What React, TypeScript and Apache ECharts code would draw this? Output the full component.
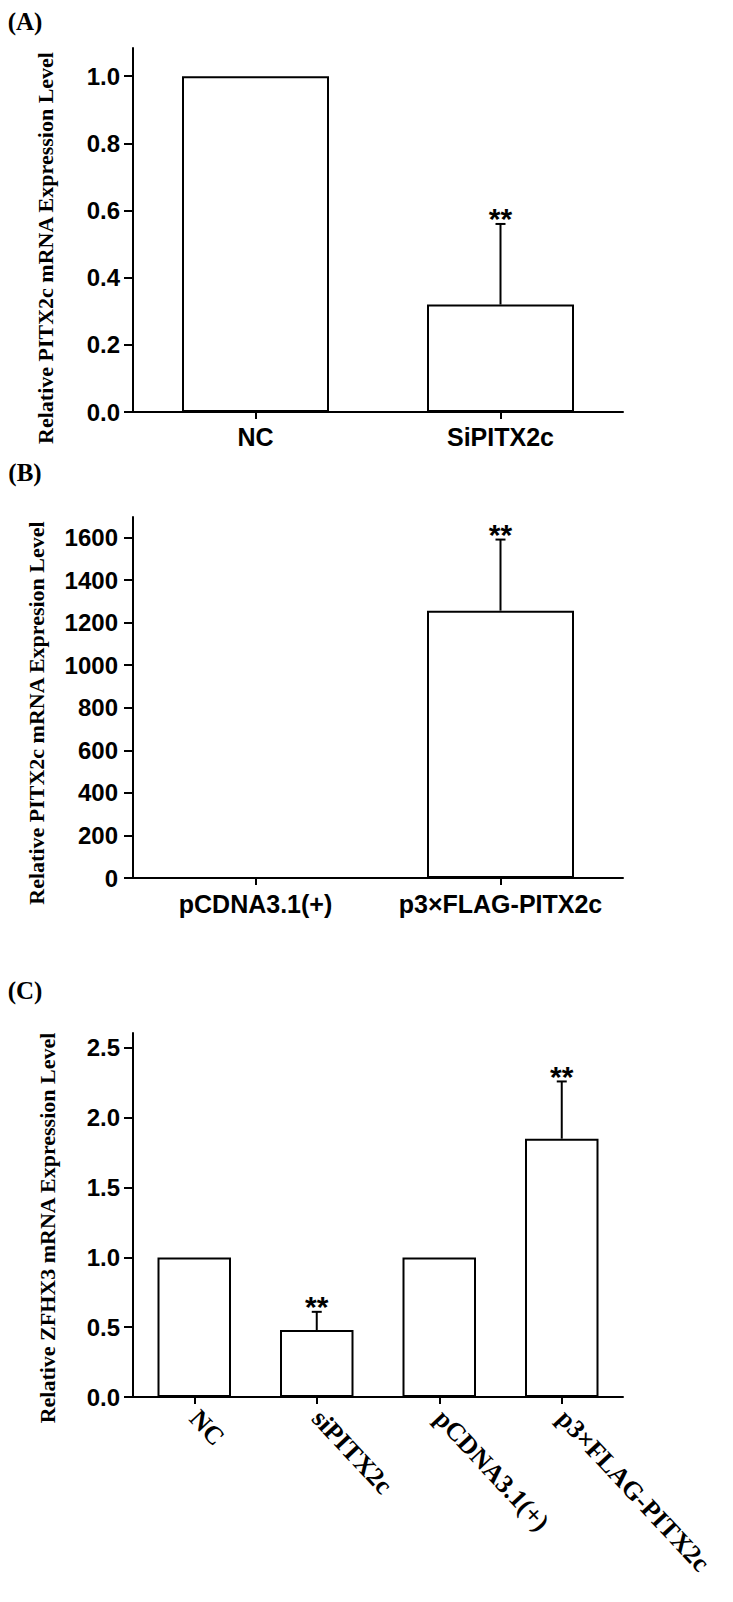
import React, { useEffect, useRef } from "react";
import * as echarts from "echarts";

// Panel A
const catsA = ["NC", "SiPITX2c"];
const valsA = [1.0, 0.32];
const errA = [0, 0.24];
const sigA = ["", "**"];
const ticksA = [0, 0.2, 0.4, 0.6, 0.8, 1.0];

// Panel B
const catsB = ["pCDNA3.1(+)", "p3×FLAG-PITX2c"];
const valsB = [1, 1256];
const errB = [0, 334];
const sigB = ["", "**"];
const ticksB = [0, 200, 400, 600, 800, 1000, 1200, 1400, 1600];

// Panel C
const catsC = ["NC", "siPITX2c", "pCDNA3.1(+)", "p3×FLAG-PITX2c"];
const valsC = [1.0, 0.48, 1.0, 1.85];
const errC = [0, 0.13, 0, 0.41];
const sigC = ["", "**", "", "**"];
const ticksC = [0, 0.5, 1.0, 1.5, 2.0, 2.5];

const SANS = "'Liberation Sans', Arial, sans-serif";
const SERIF = "'Liberation Serif', 'Times New Roman', serif";

function makeErr(gridIdx: number, vals: number[], errs: number[], sigs: string[]) {
  return {
    type: "custom",
    xAxisIndex: gridIdx,
    yAxisIndex: gridIdx,
    z: 5,
    encode: { x: 0, y: 1 },
    data: vals.map((v, i) => [i, v, errs[i]]),
    renderItem: (params: any, api: any) => {
      const i = api.value(0);
      const v = api.value(1);
      const e = api.value(2);
      if (!e) return { type: "group", children: [] };
      const base = api.coord([i, v]);
      const top = api.coord([i, v + e]);
      return {
        type: "group",
        children: [
          {
            type: "line",
            shape: { x1: base[0], y1: base[1], x2: top[0], y2: top[1] },
            style: { stroke: "#000", lineWidth: 2 },
          },
          {
            type: "line",
            shape: { x1: top[0] - 5, y1: top[1], x2: top[0] + 5, y2: top[1] },
            style: { stroke: "#000", lineWidth: 2 },
          },
          {
            type: "text",
            x: top[0],
            y: top[1] - 5,
            style: {
              text: sigs[i],
              textAlign: "center",
              textVerticalAlign: "middle",
              font: `bold 30px ${SANS}`,
              fill: "#000",
            },
          },
        ],
      };
    },
  };
}

function makeBar(gridIdx: number, vals: number[]) {
  return {
    type: "bar",
    xAxisIndex: gridIdx,
    yAxisIndex: gridIdx,
    barWidth: "60%",
    data: vals,
    itemStyle: { color: "#fff", borderColor: "#000", borderWidth: 2 },
    z: 2,
  };
}

const axisLine = { show: true, lineStyle: { color: "#000", width: 2 } };

function yAxis(gridIdx: number, max: number, interval: number, ticks: number[], digits: number, margin: number) {
  return {
    type: "value",
    gridIndex: gridIdx,
    min: 0,
    max,
    interval,
    axisLine,
    axisTick: { show: true, length: 9, lineStyle: { color: "#000", width: 2 }, customValues: ticks },
    axisLabel: {
      customValues: ticks,
      margin,
      color: "#000",
      fontFamily: SANS,
      fontWeight: "bold",
      fontSize: 24,
      formatter: (v: number) => v.toFixed(digits),
    },
    splitLine: { show: false },
  };
}

function xAxis(gridIdx: number, cats: string[], label: any) {
  return {
    type: "category",
    gridIndex: gridIdx,
    data: cats,
    axisLine,
    axisTick: { show: true, alignWithLabel: true, length: 7, lineStyle: { color: "#000", width: 2 } },
    axisLabel: { color: "#000", fontWeight: "bold", interval: 0, ...label },
    splitLine: { show: false },
  };
}

function titleText(text: string, x: number, y: number, size: number, rotate: boolean) {
  return {
    type: "text",
    x,
    y,
    rotation: rotate ? Math.PI / 2 : 0,
    style: {
      text,
      textAlign: "center",
      textVerticalAlign: "middle",
      font: `bold ${size}px ${SERIF}`,
      fill: "#000",
    },
  };
}

export default function App() {
  const ref = useRef<HTMLDivElement>(null);
  useEffect(() => {
    if (!ref.current) return;
    const chart = echarts.init(ref.current, undefined, { renderer: "svg" });
    chart.setOption({
      animation: false,
      backgroundColor: "#fff",
      grid: [
        { left: 133, top: 48, width: 490, height: 364, outerBoundsMode: "none" },
        { left: 133, top: 517, width: 490, height: 361, outerBoundsMode: "none" },
        { left: 133, top: 1033, width: 490, height: 364, outerBoundsMode: "none" },
      ],
      xAxis: [
        xAxis(0, catsA, { fontFamily: SANS, fontSize: 25, margin: 12 }),
        xAxis(1, catsB, { fontFamily: SANS, fontSize: 25, margin: 13 }),
        xAxis(2, catsC, { fontFamily: SERIF, fontSize: 26, margin: 17, rotate: -47 }),
      ],
      yAxis: [
        yAxis(0, 1.084, 0.2, ticksA, 1, 13),
        yAxis(1, 1696, 200, ticksB, 0, 15),
        yAxis(2, 2.607, 0.5, ticksC, 1, 13),
      ],
      series: [
        makeBar(0, valsA),
        makeErr(0, valsA, errA, sigA),
        makeBar(1, valsB),
        makeErr(1, valsB, errB, sigB),
        makeBar(2, valsC),
        makeErr(2, valsC, errC, sigC),
      ],
      graphic: [
        titleText("(A)", 25, 21, 25, false),
        titleText("(B)", 25, 472, 25, false),
        titleText("(C)", 25, 990, 25, false),
        titleText("Relative PITX2c mRNA Expression Level", 45, 248, 22, true),
        titleText("Relative PITX2c mRNA Expresion Level", 36, 713, 22, true),
        titleText("Relative ZFHX3 mRNA Expression Level", 47, 1228, 22, true),
      ],
    });
    return () => chart.dispose();
  }, []);
  return (
    <div
      ref={ref}
      style={{ position: "absolute", left: 0, top: 0, width: 733, height: 1602, background: "#fff" }}
    />
  );
}
